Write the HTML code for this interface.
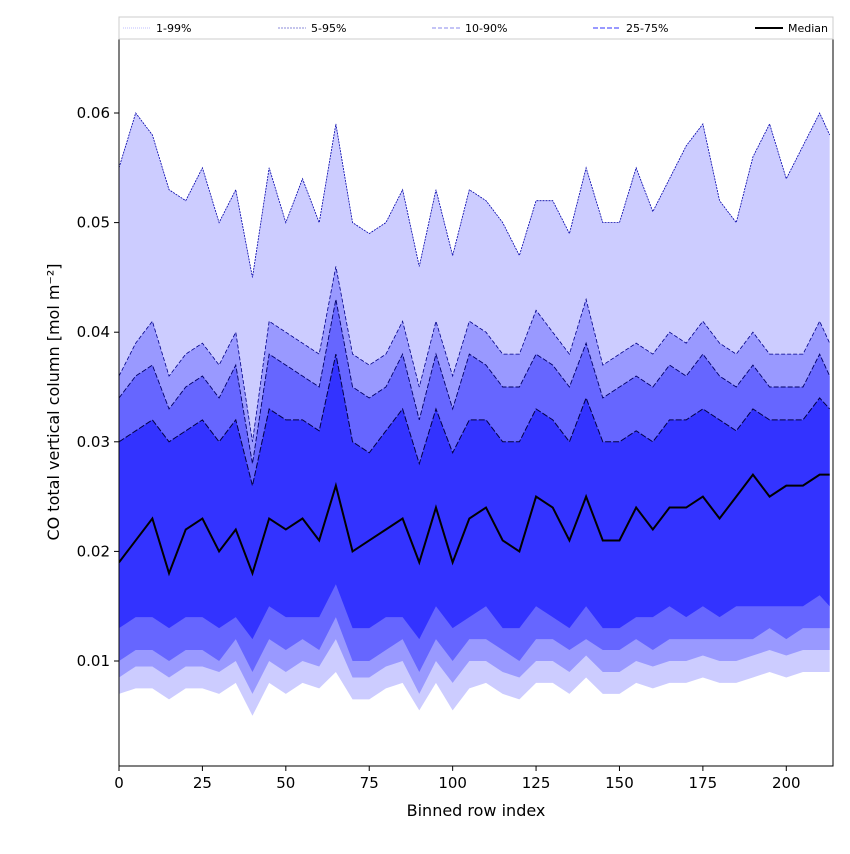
<!DOCTYPE html>
<html><head><meta charset="utf-8">
<style>
body{margin:0;background:#fff;font-family:"DejaVu Sans",sans-serif;}
svg text{font-family:"DejaVu Sans","Liberation Sans",sans-serif;}
</style></head>
<body>
<svg id="chart" width="850" height="850" xmlns="http://www.w3.org/2000/svg"></svg>
<script>
const xs = [0,5,10,15,20,25,30,35,40,45,50,55,60,65,70,75,80,85,90,95,100,105,110,115,120,125,130,135,140,145,150,155,160,165,170,175,180,185,190,195,200,205,210,213];
const p99 = [0.055,0.060,0.058,0.053,0.052,0.055,0.050,0.053,0.045,0.055,0.050,0.054,0.050,0.059,0.050,0.049,0.050,0.053,0.046,0.053,0.047,0.053,0.052,0.050,0.047,0.052,0.052,0.049,0.055,0.050,0.050,0.055,0.051,0.054,0.057,0.059,0.052,0.050,0.056,0.059,0.054,0.057,0.060,0.058];
const p95 = [0.036,0.039,0.041,0.036,0.038,0.039,0.037,0.040,0.030,0.041,0.040,0.039,0.038,0.046,0.038,0.037,0.038,0.041,0.035,0.041,0.036,0.041,0.040,0.038,0.038,0.042,0.040,0.038,0.043,0.037,0.038,0.039,0.038,0.040,0.039,0.041,0.039,0.038,0.040,0.038,0.038,0.038,0.041,0.039];
const p90 = [0.034,0.036,0.037,0.033,0.035,0.036,0.034,0.037,0.028,0.038,0.037,0.036,0.035,0.043,0.035,0.034,0.035,0.038,0.032,0.038,0.033,0.038,0.037,0.035,0.035,0.038,0.037,0.035,0.039,0.034,0.035,0.036,0.035,0.037,0.036,0.038,0.036,0.035,0.037,0.035,0.035,0.035,0.038,0.036];
const p75 = [0.030,0.031,0.032,0.030,0.031,0.032,0.030,0.032,0.026,0.033,0.032,0.032,0.031,0.038,0.030,0.029,0.031,0.033,0.028,0.033,0.029,0.032,0.032,0.030,0.030,0.033,0.032,0.030,0.034,0.030,0.030,0.031,0.030,0.032,0.032,0.033,0.032,0.031,0.033,0.032,0.032,0.032,0.034,0.033];
const median = [0.019,0.021,0.023,0.018,0.022,0.023,0.020,0.022,0.018,0.023,0.022,0.023,0.021,0.026,0.020,0.021,0.022,0.023,0.019,0.024,0.019,0.023,0.024,0.021,0.020,0.025,0.024,0.021,0.025,0.021,0.021,0.024,0.022,0.024,0.024,0.025,0.023,0.025,0.027,0.025,0.026,0.026,0.027,0.027];
const p25 = [0.013,0.014,0.014,0.013,0.014,0.014,0.013,0.014,0.012,0.015,0.014,0.014,0.014,0.017,0.013,0.013,0.014,0.014,0.012,0.015,0.013,0.014,0.015,0.013,0.013,0.015,0.014,0.013,0.015,0.013,0.013,0.014,0.014,0.015,0.014,0.015,0.014,0.015,0.015,0.015,0.015,0.015,0.016,0.015];
const p10 = [0.010,0.011,0.011,0.010,0.011,0.011,0.010,0.012,0.009,0.012,0.011,0.012,0.011,0.014,0.010,0.010,0.011,0.012,0.009,0.012,0.010,0.012,0.012,0.011,0.010,0.012,0.012,0.011,0.012,0.011,0.011,0.012,0.011,0.012,0.012,0.012,0.012,0.012,0.012,0.013,0.012,0.013,0.013,0.013];
const p5 = [0.0085,0.0095,0.0095,0.0085,0.0095,0.0095,0.009,0.010,0.007,0.010,0.009,0.010,0.0095,0.012,0.0085,0.0085,0.0095,0.010,0.007,0.010,0.008,0.010,0.010,0.009,0.0085,0.010,0.010,0.009,0.0105,0.009,0.009,0.010,0.0095,0.010,0.010,0.0105,0.010,0.010,0.0105,0.011,0.0105,0.011,0.011,0.011];
const p1 = [0.007,0.0075,0.0075,0.0065,0.0075,0.0075,0.007,0.008,0.005,0.008,0.007,0.008,0.0075,0.009,0.0065,0.0065,0.0075,0.008,0.0055,0.008,0.0055,0.0075,0.008,0.007,0.0065,0.008,0.008,0.007,0.0085,0.007,0.007,0.008,0.0075,0.008,0.008,0.0085,0.008,0.008,0.0085,0.009,0.0085,0.009,0.009,0.009];
const xTicks = [0,25,50,75,100,125,150,175,200];
const yTicks = [0.01,0.02,0.03,0.04,0.05,0.06];
const legendLabels = ["1-99%","5-95%","10-90%","25-75%","Median"];

const L=119,R=833,T=39,B=766,XMAX=214;
const sx=v=>L+(v/XMAX)*(R-L);
const sy=v=>770.6-v*10960;
const NS="http://www.w3.org/2000/svg";
const svg=document.getElementById('chart');
function mk(tag,attrs,parent){const e=document.createElementNS(NS,tag);for(const k in attrs)e.setAttribute(k,attrs[k]);(parent||svg).appendChild(e);return e;}
const clip=mk('clipPath',{id:'pc'});mk('rect',{x:L,y:T,width:R-L,height:B-T},clip);
const g=mk('g',{'clip-path':'url(#pc)'});
function band(lo,hi,fill,name){
  let d='M'+xs.map((x,i)=>sx(x)+','+sy(hi[i])).join('L');
  for(let i=xs.length-1;i>=0;i--)d+='L'+sx(xs[i])+','+sy(lo[i]);
  const p=mk('path',{d:d+'Z',fill:fill,stroke:'none'},g);
  
  
}
function line(arr,stroke,w,dash,name){
  const p=mk('path',{d:'M'+xs.map((x,i)=>sx(x)+','+sy(arr[i])).join('L'),fill:'none',stroke:stroke,'stroke-width':w,'stroke-dasharray':dash},g);
  
  
}
band(p1,p99,'#ccccff','band-1-99');
band(p5,p95,'#9999ff','band-5-95');
band(p10,p90,'#6666ff','band-10-90');
band(p25,p75,'#3333ff','band-25-75');
line(p99,'#0000aa',0.8,'2,1','line-p99');
line(p95,'#000088',0.8,'4,2','line-p95');
line(p90,'#000066',0.9,'5,2','line-p90');
line(p75,'#000044',1,'6,2','line-p75');
line(median,'#000',2,'','median-line');
mk('rect',{x:L,y:T,width:R-L,height:B-T,fill:'none',stroke:'#000','stroke-width':1});
xTicks.forEach(t=>{
  const x=sx(t);
  mk('line',{x1:x,x2:x,y1:B,y2:B+5,stroke:'#000'});
  const tx=mk('text',{x:x,y:B+22,'text-anchor':'middle','font-size':15});tx.textContent=t;
  
  
});
yTicks.forEach(t=>{
  const y=sy(t);
  mk('line',{x1:L-5,x2:L,y1:y,y2:y,stroke:'#000'});
  const tx=mk('text',{x:L-9,y:y+5,'text-anchor':'end','font-size':15});tx.textContent=t.toFixed(2);
  
  
});
const xl=mk('text',{x:(L+R)/2,y:816,'text-anchor':'middle','font-size':16});xl.textContent='Binned row index';


const yl=mk('text',{x:0,y:0,'text-anchor':'middle','font-size':16,transform:'translate(59,402) rotate(-90)'});yl.textContent='CO total vertical column [mol m⁻²]';


const lg=mk('g',{});


mk('rect',{x:L,y:17,width:R-L,height:22,fill:'#fff',stroke:'#ccc','stroke-width':1},lg);
const legX=[123,278,432,593,755];
const legStyle=[['#aaaaff',0.8,'1,1'],['#6666cc',0.8,'2,1'],['#8888ee',1,'4,2'],['#3333ff',1,'5,2'],['#000',2,'']];
legendLabels.forEach((lab,i)=>{
  const y=28;
  mk('line',{x1:legX[i],x2:legX[i]+28,y1:y,y2:y,stroke:legStyle[i][0],'stroke-width':legStyle[i][1],'stroke-dasharray':legStyle[i][2]},lg);
  const t=mk('text',{x:legX[i]+33,y:y+4,'font-size':11},lg);t.textContent=lab;
  
  
});
</script>
</body></html>
